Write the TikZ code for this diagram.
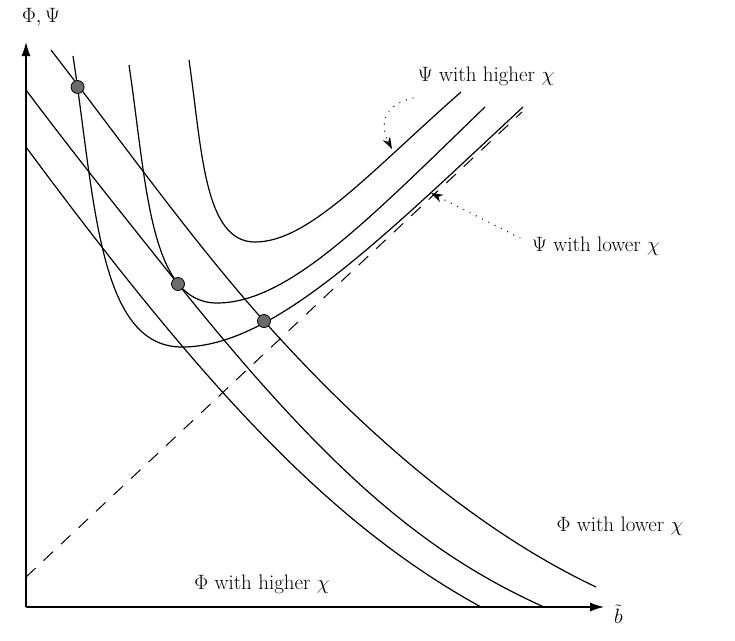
\documentclass[tikz,border=0pt]{standalone}
\usetikzlibrary{arrows.meta}
\begin{document}
\begin{tikzpicture}[x=1pt,y=-1pt,
  curve/.style={line width=1.2pt, line join=round},
  axisline/.style={line width=1.3pt, -{Latex[length=14pt,width=9pt]}},
  eqdot/.style={circle, draw=black, line width=0.8pt, fill=black!58, inner sep=0pt, minimum size=13pt},
  lbl/.style={font=\fontsize{21}{25}\selectfont, inner sep=0pt},
  pointer/.style={line width=1.4pt, dash pattern=on 0pt off 7pt, line cap=round, -{Stealth[length=12pt,width=8pt]}},
  diag/.style={line width=1.0pt, dash pattern=on 13pt off 11pt}]
\useasboundingbox (0,0) rectangle (735,640);

% axes
\coordinate (O) at (26,607);
\coordinate (ytip) at (26,42);
\coordinate (xtip) at (604,607);
\draw[axisline] (O) -- (ytip);
\draw[axisline] (O) -- (xtip);
\node[lbl] (ylab) at (41,17) {$\Phi,\Psi$};
\node[lbl, anchor=west] (xlab) at (614,614) {$\tilde b$};

% dashed diagonal
\coordinate (d0) at (26,577);
\coordinate (d1) at (522,112);
\draw[diag] (d0) -- (d1);

% Psi curves (higher, middle, lower)
\draw[curve] (189,60) .. controls (202,150) and (204,242) .. (255,242)
             .. controls (309,242) and (370,172) .. (461,92);
\draw[curve] (129,65) .. controls (146.6,182.8) and (149,303) .. (217,303)
             .. controls (288,303) and (367,221) .. (485,107);
\draw[curve] (73,56) .. controls (95,200) and (98,347) .. (182,347)
             .. controls (272,347) and (376,244) .. (523,107);

% Phi curves
\draw[curve] (26,147) .. controls (206,390) and (331,524.5) .. (481,607);
\draw[curve] (26,90) .. controls (77,158) and (127,220) .. (178,284)
             .. controls (328,471) and (424,553) .. (544,607);
\draw[curve] (51,50) .. controls (122,142) and (193,241.5) .. (264,321)
             .. controls (374,444) and (486,535) .. (596,587);

% equilibria
\node[eqdot] (e1) at (77.6,87) {};
\node[eqdot] (e2) at (178,284) {};
\node[eqdot] (e3) at (264,321) {};

% labels
\node[lbl] (psihigh) at (486,76) {$\Psi$ with higher $\chi$};
\node[lbl] (psilow) at (596,246) {$\Psi$ with lower $\chi$};
\node[lbl] (philow) at (620,526) {$\Phi$ with lower $\chi$};
\node[lbl] (phihigh) at (262,584) {$\Phi$ with higher $\chi$};

% pointers
\coordinate (p1s) at (413,98);
\coordinate (p1e) at (392,149);
\draw[pointer] (p1s) .. controls (378,106) and (382,130) .. (p1e);
\coordinate (p2s) at (520,238);
\coordinate (p2e) at (431,193);
\draw[pointer] (p2s) -- (p2e);
\end{tikzpicture}
\end{document}
